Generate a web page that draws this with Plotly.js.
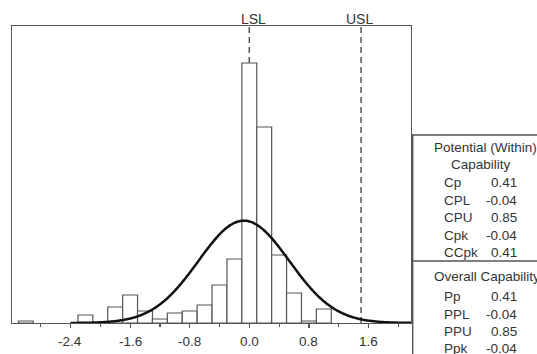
<!DOCTYPE html>
<html>
<head>
<meta charset="utf-8">
<script src="https://cdn.plot.ly/plotly-3.0.1.min.js"></script>
<style>
html,body{margin:0;padding:0;background:#fff;}
#chart{width:537px;height:354px;}
</style>
</head>
<body>
<div id="chart"></div>
<script>
// Histogram bins (centres, width 0.2) and counts
var binCenters = [-3.0, -2.2, -1.8, -1.6, -1.4, -1.2, -1.0, -0.8, -0.6, -0.4, -0.2, 0.0, 0.2, 0.4, 0.6, 0.8, 1.0];
var binCounts  = [1, 4, 8, 14, 6, 2, 5, 6, 9, 19, 32, 130, 98, 34, 15, 1, 7];
var binWidth = 0.2;

// Fitted normal curve parameters and spec limits
var fitMean = -0.073;
var fitSigma = 0.61;
var curveFrom = -2.4, curveTo = 2.2;
var LSL = 0.0, USL = 1.5;

// Capability table
var withinLabels = ['Cp', 'CPL', 'CPU', 'Cpk', 'CCpk'];
var withinValues = ['0.41', '-0.04', '0.85', '-0.04', '0.41'];
var overallLabels = ['Pp', 'PPL', 'PPU', 'Ppk'];
var overallValues = ['0.41', '-0.04', '0.85', '-0.04'];

var tickVals = [-2.4, -1.6, -0.8, 0.0, 0.8, 1.6];
var tickText = ['-2.4', '-1.6', '-0.8', '0.0', '0.8', '1.6'];

var N = binCounts.reduce(function(a,b){return a+b;},0);
var cx = [], cy = [];
for (var i = 0; i <= 230; i++) {
  var x = curveFrom + (curveTo - curveFrom) * i / 230;
  var z = (x - fitMean) / fitSigma;
  cx.push(x);
  cy.push(N * binWidth / (fitSigma * Math.sqrt(2 * Math.PI)) * Math.exp(-0.5 * z * z));
}

// layout geometry helpers (pixels -> paper)
var L = 12, T = 26, W = 399, H = 297;
function px(x){ return (x - L) / W; }
function py(y){ return (T + H - y) / H; }

var font = 'Liberation Sans, Arial, Helvetica, sans-serif';
var txt = '#333';
var edge = '#555';

var annotations = [
  {text:'LSL', xref:'x', yref:'paper', x:LSL, y:1, xanchor:'center', yanchor:'bottom', xshift:4, yshift:-3, showarrow:false, font:{family:font, size:14, color:txt}},
  {text:'USL', xref:'x', yref:'paper', x:USL, y:1, xanchor:'center', yanchor:'bottom', xshift:-2, yshift:-3, showarrow:false, font:{family:font, size:14, color:txt}},
  {text:'Potential (Within)', xref:'paper', yref:'paper', x:px(431.5), y:py(147), xanchor:'left', yanchor:'middle', showarrow:false, font:{family:font, size:13.5, color:txt}},
  {text:'Capability', xref:'paper', yref:'paper', x:px(449), y:py(164), xanchor:'left', yanchor:'middle', showarrow:false, font:{family:font, size:13.5, color:txt}},
  {text:'Overall Capability', xref:'paper', yref:'paper', x:px(431.5), y:py(276), xanchor:'left', yanchor:'middle', showarrow:false, font:{family:font, size:13.5, color:txt}}
];
// x-axis tick labels, placed at the axis' own tick values
tickVals.forEach(function(v, k){
  annotations.push({text:tickText[k], xref:'x', yref:'paper', x:v, y:0, xanchor:'center', yanchor:'middle', yshift:-18.5, showarrow:false, font:{family:font, size:13.5, color:txt}});
});
var wy = [182.5, 200, 217.5, 235, 252.5];
withinLabels.forEach(function(lab, k){
  annotations.push({text:lab, xref:'paper', yref:'paper', x:px(441.5), y:py(wy[k]), xanchor:'left', yanchor:'middle', showarrow:false, font:{family:font, size:13.5, color:txt}});
  annotations.push({text:withinValues[k], xref:'paper', yref:'paper', x:px(518.5), y:py(wy[k]), xanchor:'right', yanchor:'middle', showarrow:false, font:{family:font, size:13.5, color:txt}});
});
var oy = [296.5, 314, 331.5, 348.5];
overallLabels.forEach(function(lab, k){
  annotations.push({text:lab, xref:'paper', yref:'paper', x:px(441.5), y:py(oy[k]), xanchor:'left', yanchor:'middle', showarrow:false, font:{family:font, size:13.5, color:txt}});
  annotations.push({text:overallValues[k], xref:'paper', yref:'paper', x:px(518.5), y:py(oy[k]), xanchor:'right', yanchor:'middle', showarrow:false, font:{family:font, size:13.5, color:txt}});
});

var shapes = [
  {type:'line', xref:'x', yref:'paper', x0:LSL, x1:LSL, y0:0, y1:1, layer:'below', line:{color:edge, width:1.5, dash:'6px,4px'}},
  {type:'line', xref:'x', yref:'paper', x0:USL, x1:USL, y0:0, y1:1, layer:'below', line:{color:edge, width:1.5, dash:'6px,4px'}},
  {type:'rect', xref:'paper', yref:'paper', x0:px(412.7), x1:px(560), y0:py(135), y1:py(370), line:{color:edge, width:1.4}, fillcolor:'rgba(0,0,0,0)'},
  {type:'line', xref:'paper', yref:'paper', x0:px(412.7), x1:px(560), y0:py(261), y1:py(261), line:{color:edge, width:1.4}}
];

var traces = [
  {type:'bar', x:binCenters, y:binCounts, width:binWidth, marker:{color:'#fff', line:{color:edge, width:1.2}}, hoverinfo:'skip'},
  {type:'scatter', mode:'lines', x:cx, y:cy, line:{color:'#111', width:2.5, shape:'spline'}, hoverinfo:'skip'}
];

var layout = {
  width:537, height:354,
  margin:{l:L, r:537-L-W, t:T, b:354-T-H, pad:0},
  paper_bgcolor:'#fff', plot_bgcolor:'#fff',
  showlegend:false,
  bargap:0,
  xaxis:{range:[-3.185, 2.17], showgrid:false, zeroline:false, showline:true, mirror:true, linecolor:edge, linewidth:1.3,
    tickmode:'array', tickvals:tickVals, ticktext:tickText, showticklabels:false, ticks:'outside', ticklen:4, tickcolor:edge, tickwidth:1.2,
    minor:{dtick:0.4, tick0:0, ticks:'outside', ticklen:3, tickcolor:edge, tickwidth:1.2},
    fixedrange:true},
  yaxis:{range:[0, 148.5], showgrid:false, zeroline:false, showline:true, mirror:true, linecolor:edge, linewidth:1.3,
    showticklabels:false, ticks:'', fixedrange:true},
  shapes:shapes,
  annotations:annotations
};

Plotly.newPlot('chart', traces, layout, {displayModeBar:false, staticPlot:true});
</script>
</body>
</html>
